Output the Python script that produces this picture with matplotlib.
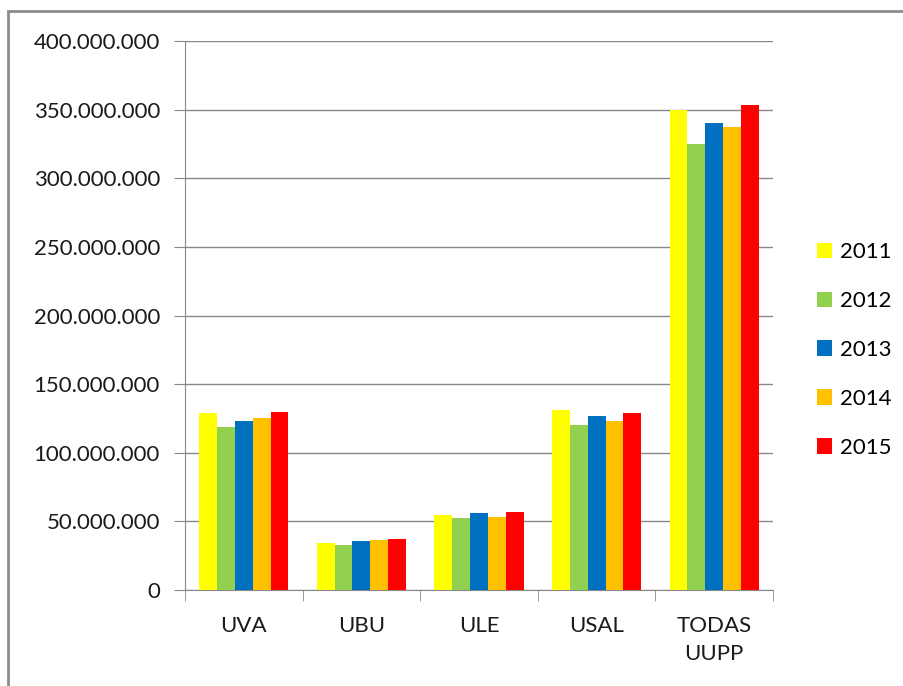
import numpy as np
import matplotlib.pyplot as plt
from matplotlib.patches import Rectangle

categories = ["UVA", "UBU", "ULE", "USAL", "TODAS\nUUPP"]
years = ["2011", "2012", "2013", "2014", "2015"]
colors = ["#FFFF00", "#92D050", "#0070C0", "#FFC000", "#FF0000"]

v2011 = [128.6e6, 34.5e6, 54.9e6, 131.5e6, 350.0e6]
v2012 = [118.4e6, 32.8e6, 52.2e6, 120.4e6, 325.0e6]
v2013 = [123.3e6, 35.4e6, 56.0e6, 126.9e6, 340.6e6]
v2014 = [125.0e6, 36.7e6, 53.4e6, 123.0e6, 337.7e6]
v2015 = [129.8e6, 37.4e6, 57.1e6, 129.1e6, 353.7e6]
series = [v2011, v2012, v2013, v2014, v2015]

yticks = np.arange(0, 400e6 + 1, 50e6)
ytick_labels = ["0"] + [f"{int(t):,}".replace(",", ".") for t in yticks[1:]]

plt.rcParams['font.family'] = ['Lato', 'DejaVu Sans']

fig = plt.figure(figsize=(9.04, 6.86), dpi=100)
ax = fig.add_axes([185/904, 1 - 590/686, (773 - 185)/904, (590 - 41)/686])

x = np.arange(len(categories))
w = 0.152
for i, (vals, yr, c) in enumerate(zip(series, years, colors)):
    ax.bar(x + (i - 2) * w, vals, width=w, color=c, label=yr, zorder=3)

ax.set_xlim(-0.5, len(categories) - 0.5)
ax.set_ylim(0, 400e6)
ax.set_yticks(yticks)
ax.set_yticklabels(ytick_labels, fontsize=16, color="#1a1a1a")
ax.set_xticks(x)
ax.set_xticklabels(categories, fontsize=16, color="#1a1a1a", linespacing=1.5)
ax.set_xticks(np.arange(-0.5, len(categories)), minor=True)
ax.tick_params(axis='x', which='major', length=0, pad=19)
ax.tick_params(axis='x', which='minor', length=8, color="#888888", direction='out')
ax.tick_params(axis='y', length=8, color="#888888", pad=10)
ax.grid(axis='y', color="#888888", linewidth=1, zorder=0)

for s in ["top", "right"]:
    ax.spines[s].set_visible(False)
for s in ["left", "bottom"]:
    ax.spines[s].set_color("#888888")

ax.legend(loc='center left', bbox_to_anchor=((808 - 185)/588, (590 - 350)/549), frameon=False,
          fontsize=16, handlelength=0.7, handleheight=0.7, labelspacing=1.3,
          handletextpad=0.35, borderaxespad=0)

fig.patches.append(Rectangle((8/904, -0.1), 1.2, 1 - 11/686 + 0.1, transform=fig.transFigure,
                             fill=False, edgecolor="#8c8c8c", linewidth=2))

fig.savefig("out.png", dpi=100)
